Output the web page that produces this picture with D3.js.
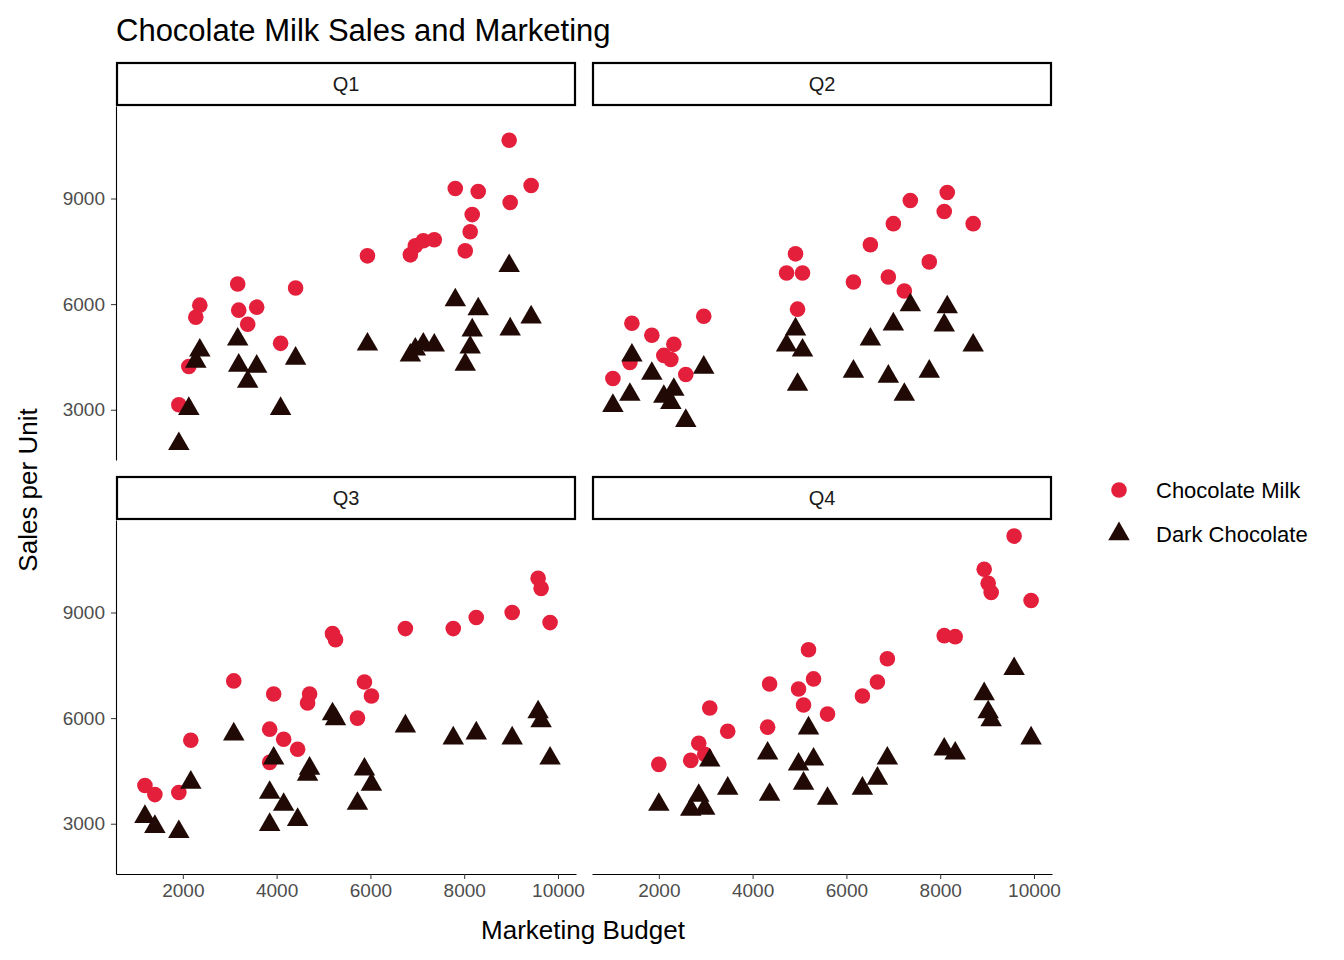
<!DOCTYPE html>
<html>
<head>
<meta charset="utf-8">
<script src="https://cdn.jsdelivr.net/npm/d3@7"></script>
<style>
  body { margin: 0; background: #fff; }
  text { font-family: "Liberation Sans", Arial, sans-serif; }
</style>
</head>
<body>
<svg width="1344" height="960"></svg>
<script>
const quarters = ["Q1", "Q2", "Q3", "Q4"];
const products = ["Chocolate Milk", "Dark Chocolate"];

const q1Budget = [1915, 2128, 2277, 2362, 3170, 3192, 3575, 3383, 4085, 4405, 5937, 6852, 6958, 7128, 7362, 7810, 8299, 8171, 8128, 8022, 8980, 8959, 9427];
const q1Milk   = [3143, 4229, 5629, 5971, 6571, 5829, 5914, 5429, 4886, 6457, 7371, 7400, 7657, 7800, 7829, 9286, 9200, 8543, 8057, 7514, 8886, 10657, 9371];
const q1Dark   = [2029, 3029, 4371, 4686, 5000, 4257, 4229, 3800, 3029, 4457, 4857, 4543, 4714, 4857, 4829, 6114, 5857, 5257, 4771, 4286, 5286, 7086, 5629];

const q2Budget = [1426, 1851, 2320, 2107, 2256, 1383, 1021, 2575, 2958, 4915, 4724, 5064, 4958, 6150, 6511, 7001, 7363, 8150, 8086, 8703, 6894, 7235, 7767];
const q2Milk   = [5457, 5114, 4857, 4543, 4428, 4343, 3886, 4000, 5657, 7428, 6886, 6886, 5857, 6628, 7686, 8286, 8943, 9171, 8629, 8286, 6771, 6371, 7200];
const q2Dark   = [4543, 4028, 3571, 3371, 3200, 3428, 3114, 2686, 4200, 5286, 4828, 4686, 3714, 4086, 5000, 5428, 5971, 5914, 5400, 4828, 3943, 3428, 4086];

const q3Budget = [1192, 1404, 1915, 2170, 3086, 3937, 3852, 4150, 4448, 3852, 4703, 4660, 5192, 5256, 5873, 6022, 5724, 6746, 7767, 8257, 9023, 9576, 9640, 9831];
const q3Milk   = [4086, 3828, 3886, 5371, 7057, 6686, 5686, 5400, 5114, 4743, 6686, 6428, 8400, 8228, 7028, 6628, 6000, 8543, 8543, 8857, 9000, 9971, 9686, 8714];
const q3Dark   = [3200, 2914, 2771, 4171, 5543, 4857, 3886, 3543, 3114, 2971, 4571, 4400, 6114, 5971, 4543, 4114, 3571, 5771, 5428, 5571, 5428, 6171, 5914, 4857];

const q4Budget = [2000, 2681, 2851, 2979, 3086, 3469, 4362, 4320, 4979, 5086, 5192, 5299, 5597, 6341, 6661, 6873, 8086, 8320, 8938, 9023, 9087, 9576, 9938];
const q4Milk   = [4686, 4800, 5286, 4971, 6286, 5628, 6971, 5743, 6828, 6371, 7943, 7114, 6114, 6628, 7028, 7686, 8343, 8314, 10228, 9828, 9571, 11171, 9343];
const q4Dark   = [3543, 3400, 3800, 3428, 4800, 4000, 3828, 5000, 4686, 4143, 5714, 4828, 3714, 4000, 4286, 4857, 5114, 5000, 6686, 6171, 5943, 7400, 5428];

const xTicks = [2000, 4000, 6000, 8000, 10000];
const yTicks = [3000, 6000, 9000];

const budgets = [q1Budget, q2Budget, q3Budget, q4Budget];
const milk = [q1Milk, q2Milk, q3Milk, q4Milk];
const dark = [q1Dark, q2Dark, q3Dark, q4Dark];

const rows = [];
quarters.forEach((q, qi) => {
  budgets[qi].forEach((b, i) => {
    rows.push({ q, budget: b, product: products[0], sales: milk[qi][i] });
    rows.push({ q, budget: b, product: products[1], sales: dark[qi][i] });
  });
});

const colors = { "Chocolate Milk": "#e41f3b", "Dark Chocolate": "#210a05" };

const svg = d3.select("svg");
const panelW = 460, panelH = 354, stripH = 44;
const panelX = [116, 592];
const panelY = [106, 520];

function expand(ext) {
  const d = (ext[1] - ext[0]) * 0.05;
  return [ext[0] - d, ext[1] + d];
}

const x = d3.scaleLinear().domain(expand(d3.extent(rows, d => d.budget))).range([0, panelW]);
const y = d3.scaleLinear().domain(expand(d3.extent(rows, d => d.sales))).range([panelH, 0]);

const triangle = d3.symbol().type(d3.symbolTriangle).size(200);
const fmt = d3.format("d");

quarters.forEach((q, qi) => {
  const col = qi % 2, row = Math.floor(qi / 2);
  const px = panelX[col], py = panelY[row];

  // strip
  svg.append("rect")
    .attr("x", px + 1).attr("y", py - stripH + 1)
    .attr("width", panelW - 2).attr("height", stripH - 2)
    .attr("fill", "#fff").attr("stroke", "#000").attr("stroke-width", 2.2);
  svg.append("text")
    .attr("x", px + panelW / 2).attr("y", py - stripH / 2 + 7)
    .attr("text-anchor", "middle").attr("font-size", "20px").attr("fill", "#1a1a1a")
    .text(q);

  const g = svg.append("g").attr("transform", `translate(${px},${py})`);

  if (col === 0) {
    const ya = g.append("g").call(d3.axisLeft(y).tickValues(yTicks).tickFormat(fmt)
      .tickSize(5).tickSizeOuter(0).tickPadding(6));
    ya.select(".domain").attr("stroke", "#000").attr("stroke-width", 1.1);
    ya.selectAll(".tick line").attr("stroke", "#333");
    ya.selectAll(".tick text").attr("font-size", "19px").attr("fill", "#4d4d4d")
      .attr("font-family", "Liberation Sans, Arial, sans-serif");
  }
  if (row === 1) {
    const xa = g.append("g").attr("transform", `translate(0,${panelH})`)
      .call(d3.axisBottom(x).tickValues(xTicks).tickFormat(fmt)
        .tickSize(5).tickSizeOuter(0).tickPadding(5));
    xa.select(".domain").attr("stroke", "#000").attr("stroke-width", 1.1);
    xa.selectAll(".tick line").attr("stroke", "#333");
    xa.selectAll(".tick text").attr("font-size", "19px").attr("fill", "#4d4d4d")
      .attr("font-family", "Liberation Sans, Arial, sans-serif");
  }

  const pts = rows.filter(d => d.q === q);
  g.selectAll("circle")
    .data(pts.filter(d => d.product === products[0]))
    .join("circle")
    .attr("cx", d => x(d.budget))
    .attr("cy", d => y(d.sales))
    .attr("r", 7.8)
    .attr("fill", colors[products[0]]);

  g.selectAll("path.tri")
    .data(pts.filter(d => d.product === products[1]))
    .join("path")
    .attr("class", "tri")
    .attr("d", triangle)
    .attr("transform", d => `translate(${x(d.budget)},${y(d.sales)})`)
    .attr("fill", colors[products[1]]);
});

// Title and axis labels
svg.append("text")
  .attr("x", 116).attr("y", 41)
  .attr("font-size", "31px").attr("fill", "#000")
  .text("Chocolate Milk Sales and Marketing");

svg.append("text")
  .attr("x", 583).attr("y", 939)
  .attr("text-anchor", "middle").attr("font-size", "26px").attr("fill", "#000")
  .text("Marketing Budget");

svg.append("text")
  .attr("transform", "rotate(-90)")
  .attr("x", -490).attr("y", 37)
  .attr("text-anchor", "middle").attr("font-size", "26px").attr("fill", "#000")
  .text("Sales per Unit");

// Legend
const legend = svg.append("g").attr("transform", "translate(1119,490)");
products.forEach((p, i) => {
  const lg = legend.append("g").attr("transform", `translate(0,${i * 44})`);
  if (i === 0) {
    lg.append("circle").attr("r", 7.8).attr("fill", colors[p]);
  } else {
    lg.append("path").attr("d", triangle).attr("fill", colors[p]);
  }
  lg.append("text").attr("x", 37).attr("y", 8)
    .attr("font-size", "22px").attr("fill", "#000").text(p);
});
</script>
</body>
</html>
